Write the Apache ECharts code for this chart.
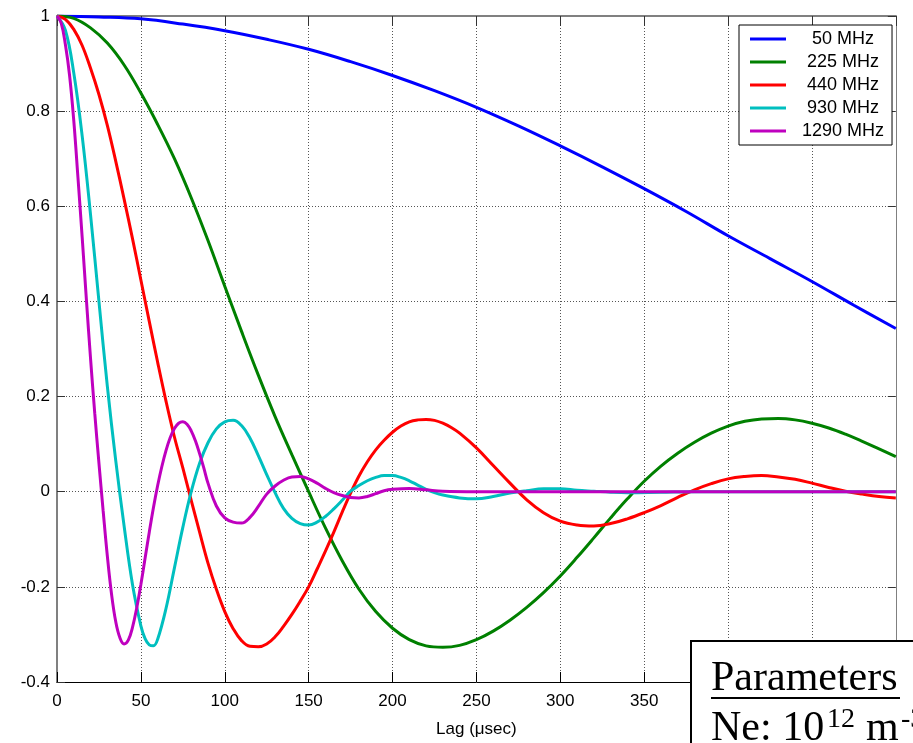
<!DOCTYPE html>
<html><head><meta charset="utf-8">
<script src="https://cdn.jsdelivr.net/npm/echarts@6/dist/echarts.min.js"></script>
<style>html,body{margin:0;padding:0;background:#fff}#c{width:913px;height:743px}</style>
</head><body><div id="c"></div>
<script>
// ---- data ----
const seriesNames = ['50 MHz', '225 MHz', '440 MHz', '930 MHz', '1290 MHz'];
const seriesColors = ['#0000ff', '#008000', '#ff0000', '#00bfbf', '#bf00bf'];

const lag50 = [0, 25, 50, 75, 100, 125, 150, 175, 200, 225, 250, 275, 300, 325, 350, 375, 400, 425, 450, 475, 500];
const acf50 = [1, 0.998, 0.994, 0.983, 0.969, 0.951, 0.930, 0.904, 0.875, 0.843, 0.808, 0.769, 0.727, 0.683, 0.637, 0.589, 0.538, 0.490, 0.442, 0.392, 0.343];

const lag225 = [0, 10, 20, 30, 40, 50, 60, 70, 80, 90, 100, 110, 120, 130, 140, 150, 160, 170, 180, 190, 200, 210, 220, 230, 240, 250, 260, 270, 280, 290, 300, 310, 320, 330, 340, 350, 360, 370, 380, 390, 400, 410, 420, 430, 440, 450, 460, 470, 480, 490, 500];
const acf225 = [1, 0.995, 0.975, 0.943, 0.897, 0.838, 0.772, 0.700, 0.618, 0.528, 0.432, 0.337, 0.245, 0.158, 0.078, 0.0, -0.076, -0.145, -0.205, -0.252, -0.287, -0.311, -0.324, -0.327, -0.323, -0.311, -0.293, -0.27, -0.243, -0.212, -0.177, -0.138, -0.097, -0.055, -0.015, 0.022, 0.054, 0.081, 0.104, 0.123, 0.138, 0.148, 0.153, 0.154, 0.151, 0.144, 0.134, 0.121, 0.106, 0.09, 0.074];

const lag440 = [0, 5, 10, 15, 20, 25, 30, 35, 40, 45, 50, 55, 60, 65, 70, 75, 80, 85, 90, 95, 100, 105, 110, 115, 120, 125, 130, 135, 140, 145, 150, 155, 160, 165, 170, 175, 180, 185, 190, 195, 200, 205, 210, 215, 220, 225, 230, 235, 240, 250, 260, 270, 280, 290, 300, 310, 320, 330, 340, 350, 360, 370, 380, 390, 400, 410, 420, 430, 440, 450, 460, 470, 480, 490, 500];
const acf440 = [1, 0.993, 0.972, 0.938, 0.89, 0.835, 0.77, 0.695, 0.615, 0.532, 0.445, 0.358, 0.272, 0.19, 0.115, 0.05, -0.018, -0.085, -0.15, -0.205, -0.252, -0.288, -0.313, -0.325, -0.326, -0.32, -0.305, -0.283, -0.258, -0.23, -0.2, -0.163, -0.125, -0.085, -0.043, -0.003, 0.033, 0.063, 0.088, 0.108, 0.125, 0.138, 0.147, 0.151, 0.152, 0.15, 0.144, 0.135, 0.123, 0.092, 0.055, 0.018, -0.017, -0.044, -0.062, -0.07, -0.072, -0.067, -0.057, -0.044, -0.029, -0.012, 0.004, 0.017, 0.027, 0.032, 0.034, 0.031, 0.026, 0.018, 0.009, 0.001, -0.005, -0.01, -0.013];

const lag930 = [0, 5, 10, 15, 20, 25, 30, 35, 40, 45, 50, 52.5, 55, 57.5, 60, 65, 70, 75, 80, 85, 90, 95, 100, 105, 110, 115, 120, 125, 130, 135, 140, 145, 150, 155, 160, 165, 170, 175, 180, 185, 190, 195, 200, 205, 210, 215, 220, 225, 230, 240, 250, 260, 270, 280, 290, 300, 310, 320, 330, 340, 360, 380, 500];
const acf930 = [1, 0.97, 0.88, 0.748, 0.582, 0.4, 0.222, 0.066, -0.072, -0.195, -0.282, -0.309, -0.322, -0.324, -0.31, -0.245, -0.16, -0.075, 0.0, 0.06, 0.103, 0.132, 0.147, 0.15, 0.139, 0.113, 0.076, 0.036, -0.002, -0.035, -0.056, -0.067, -0.07, -0.064, -0.052, -0.036, -0.018, 0.001, 0.013, 0.023, 0.03, 0.034, 0.034, 0.03, 0.023, 0.014, 0.005, -0.002, -0.007, -0.013, -0.015, -0.01, -0.003, 0.002, 0.006, 0.006, 0.003, 0.001, -0.001, -0.002, -0.001, 0, 0];

const lag1290 = [0, 2.5, 5, 7.5, 10, 12.5, 15, 17.5, 20, 22.5, 25, 27.5, 30, 32.5, 35, 37.5, 40, 42.5, 45, 47.5, 50, 52.5, 55, 57.5, 60, 62.5, 65, 67.5, 70, 72.5, 75, 77.5, 80, 82.5, 85, 87.5, 90, 95, 100, 105, 110, 115, 120, 125, 130, 135, 140, 145, 150, 155, 160, 165, 170, 175, 180, 185, 190, 195, 200, 210, 220, 230, 250, 500];
const acf1290 = [1, 0.985, 0.94, 0.875, 0.78, 0.66, 0.535, 0.405, 0.28, 0.165, 0.06, -0.04, -0.135, -0.215, -0.273, -0.307, -0.32, -0.312, -0.285, -0.245, -0.195, -0.14, -0.085, -0.033, 0.013, 0.053, 0.087, 0.114, 0.133, 0.144, 0.147, 0.142, 0.128, 0.107, 0.08, 0.05, 0.018, -0.03, -0.055, -0.064, -0.066, -0.054, -0.031, -0.005, 0.012, 0.024, 0.031, 0.032, 0.027, 0.018, 0.007, -0.002, -0.008, -0.012, -0.013, -0.01, -0.004, 0.002, 0.005, 0.007, 0.004, 0.001, 0, 0];

const xTicks = {min: 0, max: 500, interval: 50};
const yTicks = {min: -0.4, max: 1, interval: 0.2};

const lags = [lag50, lag225, lag440, lag930, lag1290];
const acfs = [acf50, acf225, acf440, acf930, acf1290];

// ---- chart ----
const FONT = '"Liberation Sans", Arial, sans-serif';
const SERIF = '"Liberation Serif", "Times New Roman", serif';
const chart = echarts.init(document.getElementById('c'), null, {renderer: 'canvas'});

const dotted = {show: true, lineStyle: {type: [1, 2], color: '#555', width: 1}};

const series = seriesNames.map((name, k) => ({
  name: name,
  type: 'line',
  xAxisIndex: 0, yAxisIndex: 0,
  data: lags[k].map((x, i) => [x, acfs[k][i]]),
  symbol: 'none', showSymbol: false,
  smooth: 0.4,
  color: seriesColors[k],
  lineStyle: {width: 3, color: seriesColors[k]},
  z: 3 + k,
  clip: true
}));

function txt(text, x, y, size) {
  return {type: 'text', z: 101, style: {text: text, x: x, y: y,
    font: size + 'px ' + SERIF, fill: '#000',
    align: 'left', verticalAlign: 'top', textAlign: 'left', textVerticalAlign: 'top'}};
}

chart.setOption({
  animation: false,
  backgroundColor: '#fff',
  grid: {left: 57, right: 2, top: 16, bottom: 53, containLabel: false},
  xAxis: [{
    type: 'value', position: 'bottom', gridIndex: 0,
    min: xTicks.min, max: xTicks.max, interval: xTicks.interval,
    axisLine: {onZero: false, lineStyle: {color: '#000', width: 1}},
    axisTick: {inside: true, length: 10, lineStyle: {color: '#000'}},
    axisLabel: {fontSize: 17, color: '#000', margin: 11, fontFamily: FONT},
    splitLine: dotted,
    name: 'Lag (\u03bcsec)', nameLocation: 'middle', nameGap: 39,
    nameTextStyle: {fontSize: 17, color: '#000', fontFamily: FONT}
  }, {
    type: 'value', position: 'top', gridIndex: 0,
    min: xTicks.min, max: xTicks.max, interval: xTicks.interval,
    axisLine: {onZero: false, lineStyle: {color: '#808080', width: 2}},
    axisTick: {inside: true, length: 10, lineStyle: {color: '#333'}},
    axisLabel: {show: false}, splitLine: {show: false}
  }],
  yAxis: [{
    type: 'value', position: 'left', gridIndex: 0,
    min: yTicks.min, max: yTicks.max, interval: yTicks.interval,
    axisLine: {show: true, onZero: false, lineStyle: {color: '#808080', width: 2}},
    axisTick: {show: true, inside: true, length: 8, lineStyle: {color: '#333'}},
    axisLabel: {fontSize: 17, color: '#000', margin: 7, fontFamily: FONT,
      formatter: v => String(+(+v).toFixed(1))},
    splitLine: dotted
  }, {
    type: 'value', position: 'right', gridIndex: 0,
    min: yTicks.min, max: yTicks.max, interval: yTicks.interval,
    axisLine: {show: true, onZero: false, lineStyle: {color: '#808080', width: 1}},
    axisTick: {show: true, inside: true, length: 8, lineStyle: {color: '#333'}},
    axisLabel: {show: false}, splitLine: {show: false}
  }],
  legend: {
    data: seriesNames,
    orient: 'vertical', left: 739, top: 25,
    padding: [5, 8, 5, 11],
    itemWidth: 36, itemHeight: 3, icon: 'rect', itemGap: 5,
    backgroundColor: '#fff', borderColor: '#000', borderWidth: 1,
    formatter: n => '{c|' + n + '}',
    textStyle: {fontSize: 18, color: '#000', fontFamily: FONT,
      rich: {c: {width: 104, align: 'center', fontSize: 18, fontFamily: FONT, color: '#000'}}},
    z: 20
  },
  graphic: [
    {type: 'rect', z: 100, shape: {x: 691, y: 641, width: 240, height: 120},
     style: {fill: '#fff', stroke: '#000', lineWidth: 2}},
    txt('Parameters', 711, 658, 42),
    {type: 'line', z: 101, shape: {x1: 711, y1: 698, x2: 900, y2: 698},
     style: {stroke: '#000', lineWidth: 2}},
    txt('Ne: 10', 711, 708, 42),
    txt('12', 827, 706, 28),
    txt('m', 866, 708, 42),
    txt('-3', 901, 706, 28)
  ],
  series: series
});
</script>
</body></html>
